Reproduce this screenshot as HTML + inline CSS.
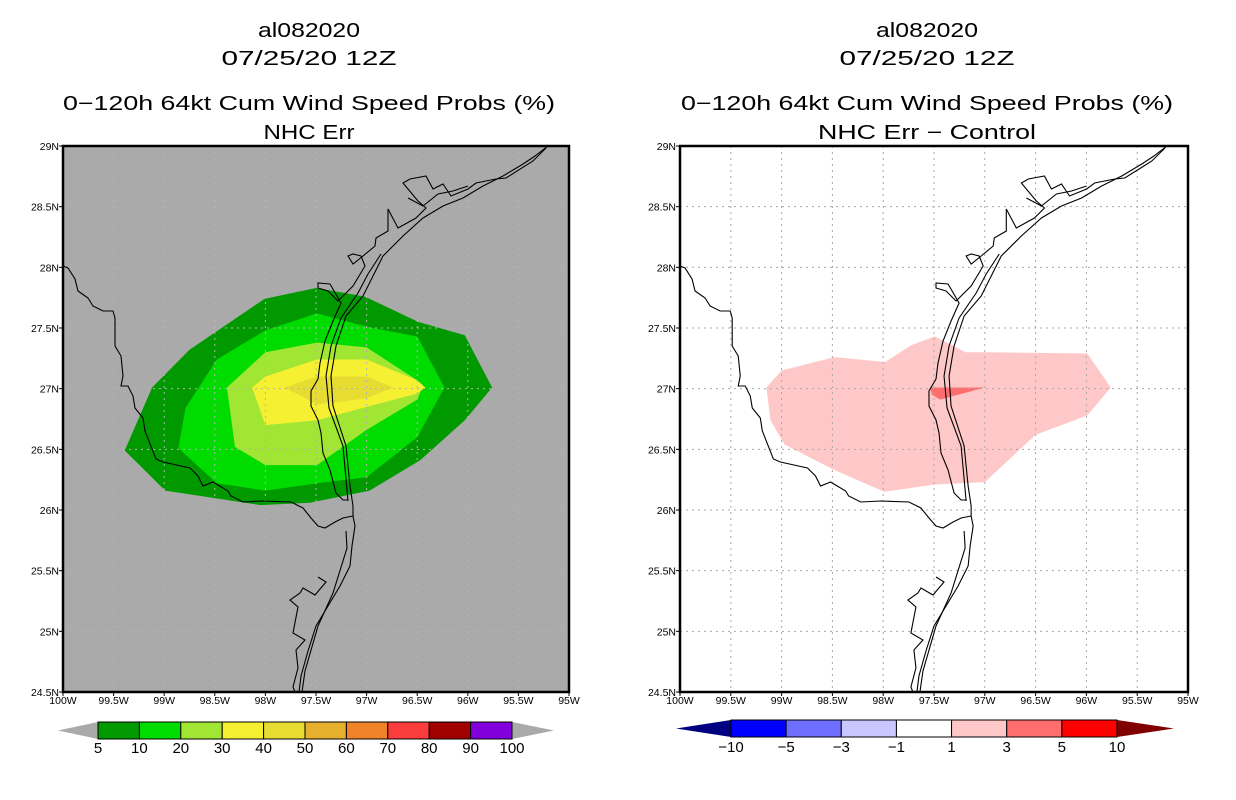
<!DOCTYPE html>
<html><head><meta charset="utf-8"><style>
html,body{margin:0;padding:0;background:#fff;width:1236px;height:800px;overflow:hidden}
svg{display:block;font-family:"Liberation Sans",sans-serif}
</style></head><body>
<svg id="chart" width="1236" height="800" viewBox="0 0 1236 800" xmlns="http://www.w3.org/2000/svg"></svg>
<script>
// ---- data ----
const lonTicks = [-100,-99.5,-99,-98.5,-98,-97.5,-97,-96.5,-96,-95.5,-95];
const lonLabels = ["100W","99.5W","99W","98.5W","98W","97.5W","97W","96.5W","96W","95.5W","95W"];
const latTicks = [24.5,25,25.5,26,26.5,27,27.5,28,28.5,29];
const latLabels = ["24.5N","25N","25.5N","26N","26.5N","27N","27.5N","28N","28.5N","29N"];
const probLevels = [5,10,20,30,40];
const probColors = ["#009a00","#00dc00","#a0e632","#f5f032","#e6dc32"];
const prob5 = [[-99.39,26.49],[-99.12,27.01],[-98.75,27.32],[-98.01,27.74],[-97.5,27.83],[-97.02,27.76],[-96.49,27.55],[-96.03,27.44],[-95.76,27.01],[-96.03,26.74],[-96.47,26.41],[-96.97,26.16],[-97.56,26.06],[-98.05,26.04],[-98.99,26.16]];
const prob10 = [[-98.86,26.51],[-98.79,26.84],[-98.48,27.24],[-98.0,27.48],[-97.49,27.62],[-97.0,27.51],[-96.5,27.43],[-96.23,27.01],[-96.5,26.6],[-97.0,26.27],[-97.49,26.22],[-98.0,26.16],[-98.48,26.22]];
const prob20 = [[-98.38,27.01],[-98.0,27.3],[-97.49,27.38],[-97.0,27.34],[-96.5,27.07],[-96.45,27.01],[-96.5,26.91],[-97.0,26.66],[-97.49,26.37],[-98.0,26.37],[-98.3,26.52]];
const prob30 = [[-98.13,27.01],[-98.0,27.1],[-97.49,27.24],[-97.0,27.24],[-96.5,27.07],[-96.42,27.01],[-96.5,26.96],[-97.0,26.85],[-97.49,26.74],[-98.0,26.7]];
const prob40 = [[-97.81,27.01],[-97.49,27.1],[-97.0,27.1],[-96.74,27.01],[-97.0,26.92],[-97.49,26.87]];
const diff1 = [[-99.15,27.01],[-99.0,27.15],[-98.48,27.26],[-97.98,27.22],[-97.72,27.36],[-97.49,27.43],[-97.19,27.3],[-97.0,27.3],[-95.99,27.29],[-95.76,27.01],[-95.99,26.78],[-96.5,26.62],[-97.0,26.23],[-97.49,26.21],[-97.99,26.15],[-98.48,26.33],[-98.97,26.54],[-99.11,26.74]];
const diff3 = [[-97.54,27.01],[-97.0,27.01],[-97.44,26.91],[-97.52,26.95]];
const probCbLabels = ["5","10","20","30","40","50","60","70","80","90","100"];
const probCbColors = ["#009a00","#00dc00","#a0e632","#f5f032","#e6dc32","#e6af2d","#f08228","#fa3c3c","#a00000","#8200dc"];
const diffCbLabels = ["-10","-5","-3","-1","1","3","5","10"];
const diffCbColors = ["#0000ff","#6e6eff","#c8c8ff","#ffffff","#ffc8c8","#ff6e6e","#ff0000"];

// coastline (relative to map box 506x546)
const coast = [
"M0,120 L5,122 L12,133 L15,145 L25,152 L30,160 L40,165 L50,165 L52,172 L52,200 L58,210 L60,230 L58,240 L65,240 L70,250 L72,262 L80,272 L82,285 L93,313 L100,316 L127,322 L135,330 L140,340 L150,336 L165,345 L168,350 L180,356 L200,355 L228,356 L240,362 L248,372 L255,380 L262,382 L272,376 L280,372 L290,370",
"M290,370 L290,360 L287,340 L283,300 L270,260 L268,230 L273,200 L283,170 L300,150 L310,130 L320,110 L340,90 L360,72 L380,60 L400,52 L420,40 L440,30 L460,18 L472,10 L485,0",
"M285,355 L280,300 L266,262 L263,230 L268,200 L278,172 L295,147 L305,128 L318,108",
"M285,354 L280,354 L273,347 L267,324 L260,307 L258,287 L255,274 L248,260 L248,245 L255,233 L257,217 L262,195 L270,175 L278,157 L267,138 L255,137 L255,142 L265,145 L275,155 L290,140 L302,120 L298,110 L290,108 L285,110 L290,118 L300,110 L312,100 L313,92 L325,85 L325,63 L335,82 L353,72 L363,62 L355,55 L340,37 L347,33 L363,30 L370,43 L380,38 L388,50 L405,43 L413,37 L433,33 L443,32 L470,15 L483,2",
"M290,370 L292,380 L289,400 L287,420 L277,440 L265,460 L253,480 L245,505 L238,530 L236,546",
"M283,385 L284,402 L270,447 L255,480 L242,525 L239,546",
"M255,431 L263,436 L252,449 L240,442 L237,447 L227,454 L235,461 L230,487 L242,494 L233,504 L235,522 L230,541 L232,546",
"M345,52 L360,60 L375,48 L390,45 L405,40"
];

const NS="http://www.w3.org/2000/svg";
const svg=document.getElementById('chart');
function el(tag,attrs,parent){const e=document.createElementNS(NS,tag);for(const k in attrs)e.setAttribute(k,attrs[k]);(parent||svg).appendChild(e);return e;}
function txt(s,x,y,size,anchor,parent,name){const t=el('text',{x:x,y:y,'font-size':size,'text-anchor':anchor||'middle',fill:'#000'},parent);t.textContent=s;


return t;}

function panel(px0,px1,py0,py1,bg,gridCol,cx,titles,widths,name){
  const g=el('g',{});
  
  
  const xs=lon=>px0+(lon+100)/5*(px1-px0);
  const ys=lat=>py0+(29-lat)/4.5*(py1-py0);
  const bgR=el('rect',{x:px0,y:py0,width:px1-px0,height:py1-py0,fill:bg},g);
  
  
  return {g,xs,ys,gridCol,px0,px1,py0,py1,cx,titles,widths};
}
function poly(P,pts,fill,name){
  const p=el('polygon',{points:pts.map(d=>P.xs(d[0]).toFixed(1)+','+P.ys(d[1]).toFixed(1)).join(' '),fill:fill},P.g);
  
  
}
function finish(P){
  const {g,xs,ys,px0,px1,py0,py1}=P;
  lonTicks.slice(1,-1).forEach(l=>{const ln=el('line',{x1:xs(l),x2:xs(l),y1:py0,y2:py1,stroke:P.gridCol,'stroke-width':1,'stroke-dasharray':'2,4'},g);
    
    });
  latTicks.slice(1,-1).forEach(l=>{const ln=el('line',{x1:px0,x2:px1,y1:ys(l),y2:ys(l),stroke:P.gridCol,'stroke-width':1,'stroke-dasharray':'2,4'},g);
    
    });
  const sx=(px1-px0)/506, sy=(py1-py0)/546;
  const cg=el('g',{transform:`translate(${px0},${py0}) scale(${sx},${sy})`},g);
  
  
  coast.forEach(d=>{const p=el('path',{d:d,fill:'none',stroke:'#000','stroke-width':1.1,'vector-effect':'non-scaling-stroke'},cg);
    
    });
  const fr=el('rect',{x:px0,y:py0,width:px1-px0,height:py1-py0,fill:'none',stroke:'#000','stroke-width':2.5},g);
  
  
  lonTicks.forEach((l,i)=>{el('line',{x1:xs(l),x2:xs(l),y1:py1,y2:py1+4,stroke:'#000'},g);
    txt(lonLabels[i],xs(l),py1+12,10.5,'middle',g,'x-tick-label');});
  latTicks.forEach((l,i)=>{el('line',{x1:px0-4,x2:px0,y1:ys(l),y2:ys(l),stroke:'#000'},g);
    txt(latLabels[i],px0-4,ys(l)+4,10.5,'end',g,'y-tick-label');});
  const ty=[37,65,110,139];
  P.titles.forEach((s,i)=>{const t=txt(s,P.cx,ty[i],20,'middle',g,'title-line-'+(i+1));
    t.setAttribute('textLength',P.widths[i]);t.setAttribute('lengthAdjust','spacingAndGlyphs');});
}
function colorbar(x0,b0,b1,x1,y0,y1,cols,labels,lcol,rcol,name,ly){
  const g=el('g',{});
  
  
  const ym=(y0+y1)/2;
  const lt=el('polygon',{points:`${x0},${ym} ${b0},${y0} ${b0},${y1}`,fill:lcol},g);
  
  
  const rt=el('polygon',{points:`${x1},${ym} ${b1},${y0} ${b1},${y1}`,fill:rcol},g);
  
  
  const w=(b1-b0)/cols.length;
  cols.forEach((c,i)=>{const r=el('rect',{x:b0+i*w,y:y0,width:w,height:y1-y0,fill:c,stroke:'#000','stroke-width':1},g);
    
    });
  labels.forEach((s,i)=>txt(s.replace('-','\u2212'),b0+i*w,ly,15,'middle',g,'colorbar-label'));
}

const L=panel(63,569,146,692,'#aaaaaa','#b4b4b4',309,["al082020","07/25/20 12Z","0\u2212120h 64kt Cum Wind Speed Probs (%)","NHC Err"],[102,175,492,91],'left-panel-nhc-err');
[prob5,prob10,prob20,prob30,prob40].forEach((p,i)=>poly(L,p,probColors[i],'prob-contour-'+probLevels[i]));
finish(L);
const R=panel(680,1188,146,692,'#ffffff','#a8a8a8',927,["al082020","07/25/20 12Z","0\u2212120h 64kt Cum Wind Speed Probs (%)","NHC Err \u2212 Control"],[102,175,492,218],'right-panel-difference');
poly(R,diff1,'#ffc8c8','diff-contour-1');
poly(R,diff3,'#ff6e6e','diff-contour-3');
finish(R);

colorbar(58,98,512,554,722,739,probCbColors,probCbLabels,'#aaaaaa','#aaaaaa','prob-colorbar',753);
colorbar(676,731,1117,1174,720,737,diffCbColors,diffCbLabels,'#000080','#800000','diff-colorbar',752);
</script>
</body></html>
